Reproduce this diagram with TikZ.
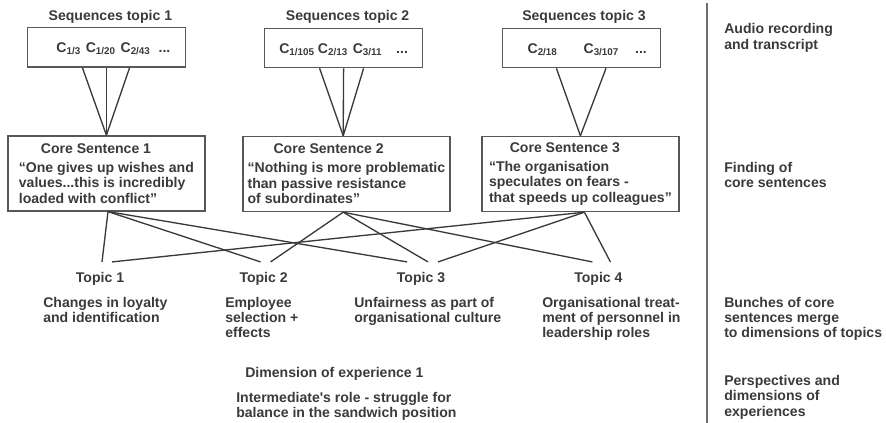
\documentclass[tikz,border=0pt]{standalone}
\usepackage{fontspec}
\setmainfont{Liberation Sans}
\usetikzlibrary{positioning}
\definecolor{ink}{HTML}{3A3A3A}
\definecolor{rulegray}{HTML}{6E6E6E}
\newcommand{\seqc}[1]{C\textsubscript{#1}}

\begin{document}
\begin{tikzpicture}[
  txt/.style={font=\bfseries\fontsize{10}{11}\selectfont, text=ink},
  seqtitle/.style={txt},
  seqbox/.style={txt, draw=ink!85, line width=1pt,
    minimum width=3.95cm, minimum height=0.98cm,
    text height=7.2pt, text depth=0pt},
  corebox/.style={txt, draw=ink!85, line width=1pt,
    minimum height=1.875cm, align=left},
  topic/.style={txt, inner ysep=7pt},
  desc/.style={txt, align=left, anchor=north west, inner sep=0pt},
  stage/.style={txt, align=left, anchor=north west, inner sep=0pt},
  link/.style={draw=ink, line width=0.95pt},
]
\useasboundingbox (0,0) rectangle (22.15,10.575);
% sequences of the three topics
\node[seqbox] (sq1) at (2.66, 9.39)  {\hspace*{0.35cm}\seqc{1/3}\hspace{0.12cm}\seqc{1/20}\hspace{0.12cm}\seqc{2/43}\hspace{0.2cm}...};
\node[seqbox] (sq2) at (8.59, 9.375) {\seqc{1/105}\hspace{0.08cm}\seqc{2/13}\hspace{0.12cm}\seqc{3/11}\hspace{0.35cm}...};
\node[seqbox] (sq3) at (14.53, 9.375) {\hspace*{0.3cm}\seqc{2/18}\hspace{0.65cm}\seqc{3/107}\hspace{0.4cm}...};
\node[seqtitle] (st1) at (2.76, 10.16) {Sequences topic 1};
\node[seqtitle] (st2) at (8.69, 10.16) {Sequences topic 2};
\node[seqtitle] (st3) at (14.6, 10.16) {Sequences topic 3};
% core sentences
\node[corebox, minimum width=4.93cm] (cs1) at (2.66, 6.24)
  {\hspace*{0.55cm}Core Sentence 1\\[2.5pt]
   “One gives up wishes and\\values...this is incredibly\\loaded with conflict”};
\node[corebox, minimum width=5.08cm] (cs2) at (8.66, 6.225)
  {\hspace*{0.65cm}Core Sentence 2\\[2.5pt]
   “Nothing is more problematic\\than passive resistance\\of subordinates”};
\node[corebox, minimum width=4.93cm] (cs3) at (14.51, 6.225)
  {\hspace*{0.52cm}Core Sentence 3\\[2.5pt]
   “The organisation\\speculates on fears -\\that speeds up colleagues”};
\draw[link] ([xshift=-0.6cm]sq1.south) -- (cs1.north);
\draw[link] (sq1.south) -- (cs1.north);
\draw[link] ([xshift=0.58cm]sq1.south) -- (cs1.north);
\draw[link] ([xshift=-0.6cm]sq2.south) -- ([xshift=-0.08cm]cs2.north);
\draw[link] (sq2.south) -- ([xshift=-0.08cm]cs2.north);
\draw[link] ([xshift=0.5cm]sq2.south) -- ([xshift=-0.08cm]cs2.north);
\draw[link] ([xshift=-0.62cm]sq3.south) -- (cs3.north);
\draw[link] ([xshift=0.62cm]sq3.south) -- (cs3.north);
% topics
\node[topic] (t1) at (2.5, 3.61)   {Topic 1};
\node[topic] (t2) at (6.59, 3.61)  {Topic 2};
\node[topic] (t3) at (10.525, 3.61) {Topic 3};
\node[topic] (t4) at (14.96, 3.61) {Topic 4};
\draw[link] ([xshift=0.04cm]cs1.south) -- ([xshift=0.05cm]t1.north);
\draw[link] ([xshift=0.04cm]cs1.south) -- ([xshift=-0.075cm]t2.north);
\draw[link] ([xshift=0.04cm]cs1.south) -- ([xshift=-0.35cm]t3.north);
\draw[link] ([xshift=-0.08cm]cs2.south) -- ([xshift=0.175cm]t2.north);
\draw[link] ([xshift=-0.08cm]cs2.south) -- ([xshift=0.175cm]t3.north);
\draw[link] ([xshift=-0.08cm]cs2.south) -- ([xshift=-0.15cm]t4.north);
\draw[link] ([xshift=0.1cm]cs3.south) -- ([xshift=0.3cm]t1.north);
\draw[link] ([xshift=0.1cm]cs3.south) -- ([xshift=0.425cm]t3.north);
\draw[link] ([xshift=0.1cm]cs3.south) -- ([xshift=0.3cm]t4.north);
\node[desc] (d1) at (1.075, 3.16) {Changes in loyalty\\and identification};
\node[desc] (d2) at (5.625, 3.16) {Employee\\selection +\\effects};
\node[desc] (d3) at (8.85, 3.16)  {Unfairness as part of\\organisational culture};
\node[desc] (d4) at (13.55, 3.16) {Organisational treat-\\ment of personnel in\\leadership roles};
% dimension of experience
\node[txt] (dim) at (8.36, 1.225) {Dimension of experience 1};
\node[desc] (role) at (5.9, 0.78) {Intermediate\textquotesingle s role - struggle for\\balance in the sandwich position};
% stages
\coordinate (septop) at (17.675, 10.5);
\coordinate (sepbot) at (17.675, 0);
\draw[rulegray, line width=1pt] (septop) -- (sepbot);
\node[stage] (s1) at (18.1, 9.99) {Audio recording\\and transcript};
\node[stage] (s2) at (18.1, 6.53) {Finding of\\core sentences};
\node[stage] (s3) at (18.1, 3.16) {Bunches of core\\sentences merge\\to dimensions of topics};
\node[stage] (s4) at (18.1, 1.2)  {Perspectives and\\dimensions of\\experiences};
\end{tikzpicture}
\end{document}
